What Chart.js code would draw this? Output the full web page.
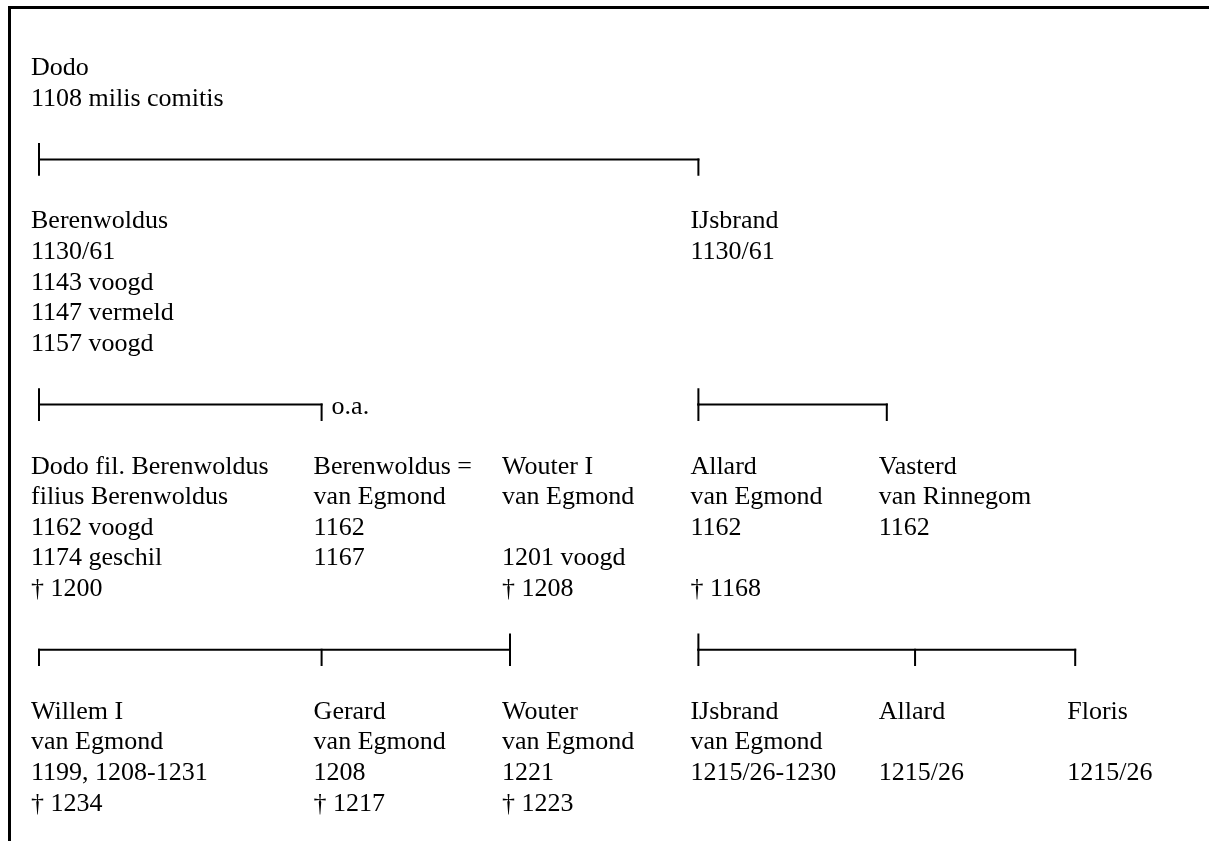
<!DOCTYPE html>
<html>
<head>
<meta charset="utf-8">
<script src="https://cdn.jsdelivr.net/npm/chart.js@4.4.1/dist/chart.umd.min.js"></script>
<style>
    html, body { margin: 0; padding: 0; background: #fff; }
    #wrap { position: relative; width: 1209px; height: 841px; overflow: hidden; }
    #frame { position: absolute; left: 8px; top: 6px; width: 1201px; height: 835px;
             border-top: 3px solid #000; border-left: 3px solid #000; box-sizing: border-box; }
    canvas { position: absolute; left: 0; top: 0; }
</style>
</head>
<body>
<div id="wrap">
    <div id="frame"></div>
    <canvas id="treeChart" width="1209" height="841"></canvas>
</div>
<script>
// Persons of the family tree: text lines, generation and column slot
const personLines = [
    ["Dodo", "1108 milis comitis"],
    ["Berenwoldus", "1130/61", "1143 voogd", "1147 vermeld", "1157 voogd"],
    ["IJsbrand", "1130/61"],
    ["Dodo fil. Berenwoldus", "filius Berenwoldus", "1162 voogd", "1174 geschil", "† 1200"],
    ["Berenwoldus =", "van Egmond", "1162", "1167"],
    ["Wouter I", "van Egmond", "", "1201 voogd", "† 1208"],
    ["Allard", "van Egmond", "1162", "", "† 1168"],
    ["Vasterd", "van Rinnegom", "1162"],
    ["Willem I", "van Egmond", "1199, 1208-1231", "† 1234"],
    ["Gerard", "van Egmond", "1208", "† 1217"],
    ["Wouter", "van Egmond", "1221", "† 1223"],
    ["IJsbrand", "van Egmond", "1215/26-1230"],
    ["Allard", "", "1215/26"],
    ["Floris", "", "1215/26"]
];
const personGen = [0, 1, 1, 2, 2, 2, 2, 2, 3, 3, 3, 3, 3, 3];
const personCol = [0, 0, 3.5, 0, 1.5, 2.5, 3.5, 4.5, 0, 1.5, 2.5, 3.5, 4.5, 5.5];

// Descent brackets: generation of the children, parent slot, child slots
const bracketGen = [1, 2, 2, 3, 3];
const bracketParent = [0, 0, 3.5, 2.5, 3.5];
const bracketChildren = [[0, 3.5], [0, 1.5], [3.5, 4.5], [0, 1.5, 2.5], [3.5, 4.65, 5.5]];
const bracketNote = ["", "o.a.", "", "", ""];

// vertical layout in text lines
const firstLine = 2.45;
const genGap = 3;
const genTop = [firstLine];
for (let g = 1; g <= 3; g++) {
    let maxLines = 0;
    personLines.forEach((l, i) => { if (personGen[i] === g - 1) maxLines = Math.max(maxLines, l.length); });
    genTop.push(genTop[g - 1] + maxLines + genGap);
}
const bracketY = (g) => genTop[g] - 2.25;

// build line datasets for the brackets
const datasets = [];
function seg(x1, y1, x2, y2) {
    datasets.push({
        data: [{ x: x1, y: y1 }, { x: x2, y: y2 }],
        showLine: true,
        borderColor: "#000",
        borderWidth: 2,
        borderCapStyle: "square",
        pointRadius: 0,
        fill: false,
    });
}
bracketGen.forEach((g, b) => {
    const y = bracketY(g);
    const xs = [bracketParent[b], ...bracketChildren[b]];
    seg(Math.min(...xs), y, Math.max(...xs), y);
    seg(bracketParent[b], y - 0.5, bracketParent[b], y);
    bracketChildren[b].forEach((c) => seg(c, y, c, y + 0.5));
});

const textPlugin = {
    id: "treeText",
    afterDatasetsDraw(chart) {
        const { ctx, scales } = chart;
        ctx.save();
        ctx.font = '26px "Liberation Serif", "Times New Roman", serif';
        ctx.fillStyle = "#000";
        ctx.textBaseline = "alphabetic";
        personLines.forEach((lines, i) => {
            const x = scales.x.getPixelForValue(personCol[i]) - 8;
            lines.forEach((t, k) => {
                if (t) ctx.fillText(t, x, scales.y.getPixelForValue(genTop[personGen[i]] + k));
            });
        });
        bracketNote.forEach((n, b) => {
            if (!n) return;
            const xs = [bracketParent[b], ...bracketChildren[b]];
            ctx.fillText(n, scales.x.getPixelForValue(Math.max(...xs)) + 10,
                scales.y.getPixelForValue(bracketY(bracketGen[b])) + 9);
        });
        ctx.restore();
    },
};

const colWidth = 188.4;
const lineHeight = 30.65;
new Chart(document.getElementById("treeChart"), {
    type: "scatter",
    data: { datasets },
    plugins: [textPlugin],
    options: {
        responsive: false,
        animation: false,
        events: [],
        layout: { padding: 0 },
        plugins: { legend: { display: false }, tooltip: { enabled: false } },
        scales: {
            x: { type: "linear", display: false, min: -39 / colWidth, max: (1209 - 39) / colWidth },
            y: { type: "linear", display: false, reverse: true, min: 0, max: 841 / lineHeight },
        },
    },
});
</script>
</body>
</html>
